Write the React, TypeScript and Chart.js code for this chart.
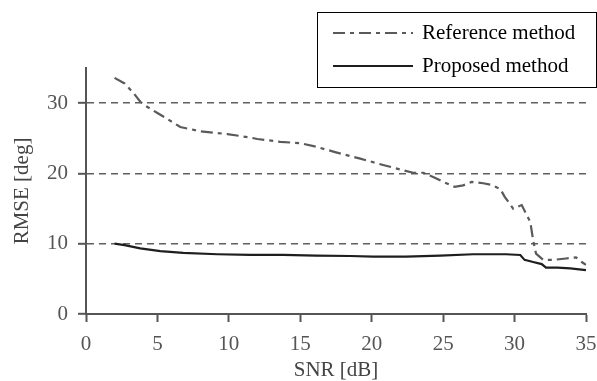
import React, { useEffect, useRef } from "react";
import { Chart, registerables } from "chart.js";

Chart.register(...registerables);

// ---- Data ----
const referenceSNR = [2.0, 2.7, 3.3, 3.8, 4.1, 5.0, 5.65, 6.6, 8.0, 9.9, 11.5, 12.0, 13.6, 15.0, 16.1, 17.5, 19.2, 20.8, 22.3, 22.9, 23.6, 24.3, 25.0, 25.8, 26.4, 27.0, 27.8, 28.3, 29.0, 29.3, 29.9, 30.5, 31.1, 31.3, 31.5, 32.0, 32.7, 33.6, 34.3, 34.7, 35.0];
const referenceRMSE = [33.6, 32.8, 31.5, 30.2, 29.7, 28.6, 27.8, 26.6, 26.0, 25.6, 25.1, 24.9, 24.5, 24.3, 23.8, 23.0, 22.1, 21.2, 20.4, 20.1, 20.1, 19.5, 18.8, 18.1, 18.3, 18.8, 18.6, 18.4, 17.8, 16.7, 15.0, 15.5, 13.1, 10.5, 8.6, 7.7, 7.7, 7.9, 8.05, 7.4, 7.0];

const proposedSNR = [2.0, 2.7, 3.8, 5.2, 6.8, 9.2, 11.5, 13.8, 16.1, 18.5, 20.1, 22.4, 24.8, 27.1, 29.4, 30.4, 30.7, 31.3, 31.9, 32.2, 33.0, 33.9, 35.0];
const proposedRMSE = [10.0, 9.8, 9.33, 8.95, 8.7, 8.5, 8.4, 8.4, 8.3, 8.25, 8.15, 8.15, 8.3, 8.5, 8.5, 8.4, 7.7, 7.4, 7.1, 6.6, 6.6, 6.5, 6.25];

const seriesLabels = ["Reference method", "Proposed method"];
const xTicks = [0, 5, 10, 15, 20, 25, 30, 35];
const yTicks = [0, 10, 20, 30];
const xTitle = "SNR [dB]";
const yTitle = "RMSE [deg]";

const FONT = "'Liberation Serif', 'Times New Roman', serif";
const AXIS = "#555555";
const FS = 21;

const toPoints = (xs: number[], ys: number[]) => xs.map((x, i) => ({ x, y: ys[i] }));

const boxLegend = {
  id: "boxLegend",
  afterDraw(chart: any) {
    const ctx = chart.ctx as CanvasRenderingContext2D;
    const left = 317.5, top = 12.5, right = 596.5, bottom = 87.5;
    ctx.save();
    ctx.fillStyle = "#ffffff";
    ctx.fillRect(left, top, right - left, bottom - top);
    ctx.strokeStyle = "#000000";
    ctx.lineWidth = 1;
    ctx.strokeRect(left, top, right - left, bottom - top);
    const rows = [33, 66];
    chart.data.datasets.forEach((ds: any, i: number) => {
      const y = rows[i];
      ctx.beginPath();
      ctx.setLineDash(ds.borderDash || []);
      ctx.strokeStyle = ds.borderColor;
      ctx.lineWidth = ds.borderWidth;
      ctx.moveTo(333, y);
      ctx.lineTo(413, y);
      ctx.stroke();
      ctx.setLineDash([]);
      ctx.fillStyle = "#000000";
      ctx.font = `${FS}px ${FONT}`;
      ctx.textBaseline = "middle";
      ctx.textAlign = "left";
      ctx.fillText(ds.label, 422, y);
    });
    ctx.restore();
  },
};

export default function App() {
  const canvasRef = useRef<HTMLCanvasElement | null>(null);

  useEffect(() => {
    document.body.style.margin = "0";
    const canvas = canvasRef.current;
    if (!canvas) return;
    const chart = new Chart(canvas, {
      type: "line",
      data: {
        datasets: [
          {
            label: seriesLabels[0],
            data: toPoints(referenceSNR, referenceRMSE),
            borderColor: "#5a5a5a",
            borderWidth: 2.2,
            borderDash: [12, 5, 4, 5],
            pointRadius: 0,
            fill: false,
            tension: 0,
          },
          {
            label: seriesLabels[1],
            data: toPoints(proposedSNR, proposedRMSE),
            borderColor: "#1e1e1e",
            borderWidth: 2.2,
            pointRadius: 0,
            fill: false,
            tension: 0,
          },
        ],
      },
      options: {
        responsive: false,
        animation: false,
        layout: { padding: { top: 68, right: 11, left: 0, bottom: 0 } },
        plugins: { legend: { display: false }, tooltip: { enabled: false } },
        scales: {
          x: {
            type: "linear",
            min: 0,
            max: 35,
            afterBuildTicks: (scale: any) => {
              scale.ticks = xTicks.map((v) => ({ value: v }));
            },
            afterFit: (scale: any) => {
              scale.height = 67;
              scale.paddingLeft = 0;
              scale.paddingRight = 0;
            },
            ticks: {
              color: AXIS,
              font: { family: FONT, size: FS },
              padding: 10,
              maxRotation: 0,
            },
            grid: {
              drawOnChartArea: false,
              drawTicks: true,
              tickLength: 8,
              tickColor: AXIS,
              tickWidth: 2,
            },
            border: { display: true, color: AXIS, width: 2 },
            title: {
              display: true,
              text: xTitle,
              color: "#444444",
              font: { family: FONT, size: FS, lineHeight: 1 },
              padding: { top: 0, bottom: 0 },
            },
          },
          y: {
            type: "linear",
            min: 0,
            max: 35,
            afterBuildTicks: (scale: any) => {
              scale.ticks = yTicks.map((v) => ({ value: v }));
            },
            afterFit: (scale: any) => {
              scale.width = 86;
              scale.paddingTop = 0;
              scale.paddingBottom = 0;
            },
            ticks: {
              color: AXIS,
              font: { family: FONT, size: FS },
              padding: 10,
            },
            grid: {
              drawOnChartArea: true,
              drawTicks: true,
              color: (ctx: any) => (ctx.tick && ctx.tick.value === 0 ? "rgba(0,0,0,0)" : "#5f5f5f"),
              lineWidth: 1.6,
              tickLength: 8,
              tickColor: AXIS,
              tickWidth: 2,
            },
            border: { display: true, color: AXIS, width: 2, dash: [7, 5] },
            title: {
              display: true,
              text: yTitle,
              color: "#444444",
              font: { family: FONT, size: FS, lineHeight: 1.2 },
              padding: { top: 10, bottom: 0 },
            },
          },
        },
      },
      plugins: [boxLegend],
    } as any);
    return () => chart.destroy();
  }, []);

  return (
    <div style={{ width: 597, height: 381 }}>
      <canvas ref={canvasRef} width={597} height={381} style={{ display: "block" }} />
    </div>
  );
}
